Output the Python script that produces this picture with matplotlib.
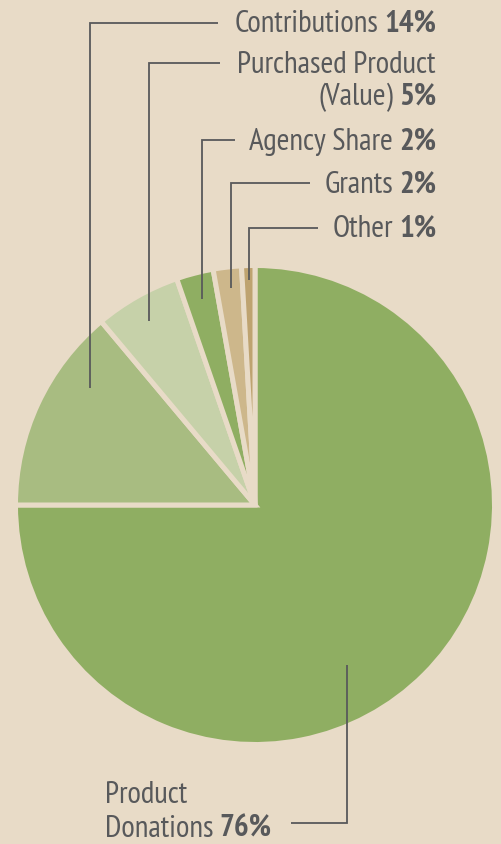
import matplotlib
matplotlib.use("Agg")
import matplotlib.pyplot as plt
from matplotlib import font_manager

# ---- data ----
categories = ["Product Donations", "Contributions", "Purchased Product (Value)",
              "Agency Share", "Grants", "Other"]
wedge_shares = [75.0, 13.9, 5.8, 2.5, 1.9, 0.9]   # slice sizes as drawn
pct_labels = ["76%", "14%", "5%", "2%", "2%", "1%"]
colors = ["#8fae62", "#a8bc81", "#c6d1a9", "#8fae62", "#cdb78b", "#bea370"]

BG = "#e8dbc7"
TXT = "#58595b"

avail = {f.name for f in font_manager.fontManager.ttflist}
fam = [f for f in ["PT Sans Narrow", "Fira Sans Extra Condensed", "Roboto Condensed",
                   "DejaVu Sans"] if f in avail] or ["DejaVu Sans"]
plt.rcParams["font.family"] = fam[:1] + ["DejaVu Sans"]

W, H = 501, 844
fig = plt.figure(figsize=(W / 100, H / 100), dpi=100, facecolor=BG)
ax = fig.add_axes([0, 0, 1, 1])
ax.set_facecolor(BG)

cx, cy, r = 255, H - 505, 239.5
ax.pie(wedge_shares, colors=colors, startangle=90, counterclock=False,
       center=(cx, cy), radius=r,
       wedgeprops=dict(edgecolor=BG, linewidth=3.6))
ax.set_xlim(0, W)
ax.set_ylim(0, H)
ax.set_aspect("equal")
ax.axis("off")

def P(y):
    return H - y

lw = 1.3
leaders = [
    [(90, 388), (90, 23), (218, 23)],
    [(149, 321), (149, 63), (220, 63)],
    [(202, 299), (202, 140), (235, 140)],
    [(231, 288), (231, 183), (310, 183)],
    [(249, 280), (249, 228), (318, 228)],
    [(347, 665), (347, 823), (291, 823)],
]
for pts in leaders:
    ax.plot([p[0] for p in pts], [P(p[1]) for p in pts], color=TXT, lw=lw,
            solid_joinstyle="miter", solid_capstyle="butt")

fig.canvas.draw()
renderer = fig.canvas.get_renderer()

def width_of(s, size, bold=False):
    t = ax.text(0, 0, s, fontsize=size, fontweight="bold" if bold else "normal")
    w = t.get_window_extent(renderer).width
    t.remove()
    return w

GAP = 6
base = 20.0
wbase = width_of("Contributions", base) + GAP + width_of("14%", base, True)
fs = base * 203.0 / wbase

def right_label(x, y, normal, bold):
    tb = ax.text(x, P(y), bold, ha="right", va="baseline", fontsize=fs,
                 fontweight="bold", color=TXT)
    bb = tb.get_window_extent(renderer)
    ax.text(x - bb.width - GAP, P(y), normal, ha="right", va="baseline",
            fontsize=fs, color=TXT)

RX = 436
right_label(RX, 32, categories[1], pct_labels[1])
ax.text(RX, P(73), "Purchased Product", ha="right", va="baseline", fontsize=fs, color=TXT)
right_label(RX, 105, "(Value)", pct_labels[2])
right_label(RX, 150, categories[3], pct_labels[3])
right_label(RX, 193, categories[4], pct_labels[4])
right_label(RX, 237, categories[5], pct_labels[5])

ax.text(105, P(803), "Product", ha="left", va="baseline", fontsize=fs, color=TXT)
tn = ax.text(105, P(837), "Donations", ha="left", va="baseline", fontsize=fs, color=TXT)
bb = tn.get_window_extent(renderer)
ax.text(105 + bb.width + GAP, P(837), pct_labels[0], ha="left", va="baseline",
        fontsize=fs, fontweight="bold", color=TXT)

fig.savefig("out.png", dpi=100, facecolor=BG)
